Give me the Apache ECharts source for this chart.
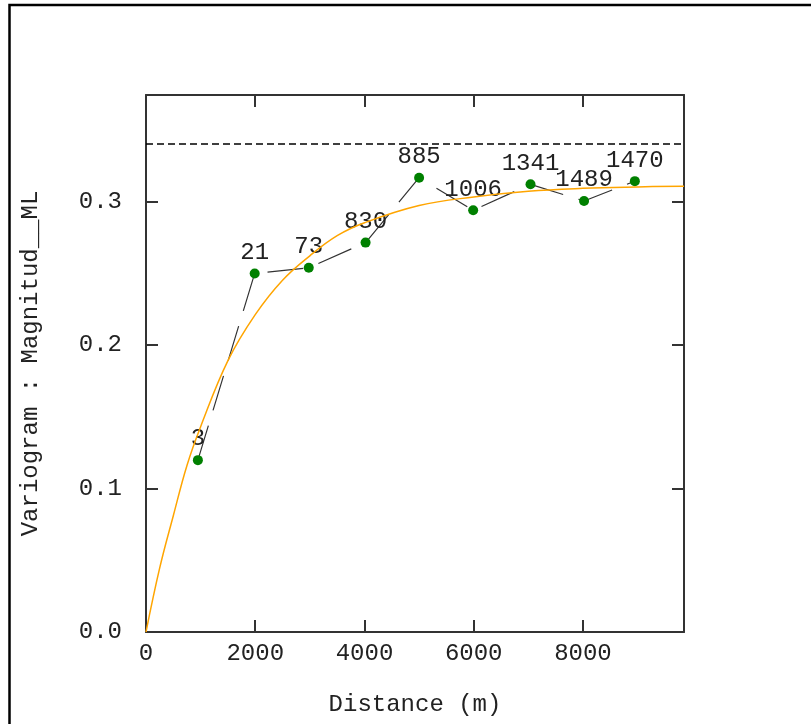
<!DOCTYPE html>
<html>
<head>
<meta charset="utf-8">
<script src="https://cdn.jsdelivr.net/npm/echarts@6/dist/echarts.min.js"></script>
<style>
  html, body { margin: 0; padding: 0; background: #fff; }
  #chart { width: 811px; height: 724px; }
</style>
</head>
<body>
<div id="chart"></div>
<script>
// Experimental variogram (lag distance, semivariance, number of pairs)
var lagDistance = [950, 1990, 2980, 4020, 5000, 5990, 7040, 8020, 8950];
var semivariance = [0.1197, 0.2497, 0.2537, 0.2712, 0.3164, 0.2937, 0.3118, 0.3002, 0.3140];
var pairCount = [3, 21, 73, 830, 885, 1006, 1341, 1489, 1470];

// Fitted model curve
var modelDistance = [0, 250, 500, 750, 1000, 1500, 2000, 2500, 3000, 3500, 4000, 5000, 6000, 7000, 8000, 9000, 9850];
var modelGamma = [0, 0.0445, 0.081, 0.116, 0.143, 0.189, 0.221, 0.245, 0.262, 0.276, 0.285, 0.297, 0.303, 0.307, 0.309, 0.310, 0.3105];

// Sill (sample variance) dashed line
var sillValue = 0.34;

// Axes
var xMin = 0, xMax = 9850, xInterval = 2000;
var yMin = 0, yMax = 0.374, yInterval = 0.1;
var xName = 'Distance (m)';
var yName = 'Variogram : Magnitud__ML';

var FONT = 'Liberation Mono';
var TXT = '#222';
var FS = 24;

var chart = echarts.init(document.getElementById('chart'), null, { renderer: 'canvas' });

function axisCommon(extra) {
  var base = {
    axisLine: { show: true, onZero: false, lineStyle: { color: '#333', width: 2 } },
    axisTick: { show: true, inside: true, length: 12, lineStyle: { color: '#333', width: 2 } },
    splitLine: { show: false }
  };
  for (var k in extra) base[k] = extra[k];
  return base;
}

var option = {
  animation: false,
  backgroundColor: '#fff',
  graphic: [{
    type: 'rect',
    shape: { x: 9.5, y: 5, width: 900, height: 900 },
    style: { fill: null, stroke: '#000', lineWidth: 2.5 },
    silent: true, z: -10
  }],
  grid: { left: 146, right: 127, top: 95, bottom: 92, containLabel: false },
  xAxis: [
    axisCommon({
      type: 'value', position: 'bottom', min: xMin, max: xMax, interval: xInterval,
      name: xName, nameLocation: 'middle', nameGap: 61,
      nameTextStyle: { fontFamily: FONT, fontSize: FS, color: TXT },
      axisLabel: {
        show: true, margin: 10, fontFamily: FONT, fontSize: FS, color: TXT,
        formatter: function (v) { return (v % xInterval === 0) ? String(v) : ''; }
      }
    }),
    axisCommon({
      type: 'value', position: 'top', min: xMin, max: xMax, interval: xInterval,
      axisLabel: { show: false }
    })
  ],
  yAxis: [
    axisCommon({
      type: 'value', position: 'left', min: yMin, max: yMax, interval: yInterval,
      name: yName, nameLocation: 'middle', nameGap: 103, nameRotate: 90,
      nameTextStyle: { fontFamily: FONT, fontSize: FS, color: TXT },
      axisLabel: {
        show: true, margin: 24, fontFamily: FONT, fontSize: FS, color: TXT,
        formatter: function (v) {
          var t = v / yInterval;
          return Math.abs(t - Math.round(t)) < 1e-6 ? v.toFixed(1) : '';
        }
      }
    }),
    axisCommon({
      type: 'value', position: 'right', min: yMin, max: yMax, interval: yInterval,
      axisLabel: { show: false }
    })
  ],
  series: [
    {
      name: 'experimental',
      type: 'line',
      xAxisIndex: 0, yAxisIndex: 0,
      z: 2,
      data: lagDistance.map(function (d, i) { return [d, semivariance[i]]; }),
      symbol: 'circle',
      symbolSize: 10,
      itemStyle: { color: '#008000' },
      lineStyle: { color: '#333', width: 1.2, type: [36, 16] },
      label: {
        show: true, position: 'top', distance: 4,
        fontFamily: FONT, fontSize: FS, color: TXT,
        formatter: function (p) { return String(pairCount[p.dataIndex]); }
      }
    },
    {
      name: 'model',
      type: 'line',
      xAxisIndex: 0, yAxisIndex: 0,
      z: 3,
      data: modelDistance.map(function (d, i) { return [d, modelGamma[i]]; }),
      smooth: 0.4,
      symbol: 'none',
      lineStyle: { color: '#FFA500', width: 1.5 },
      markLine: {
        silent: true,
        symbol: ['none', 'none'],
        label: { show: false },
        lineStyle: { color: '#000', width: 1.5, type: [7, 4] },
        data: [{ yAxis: sillValue }]
      }
    }
  ]
};

chart.setOption(option);
</script>
</body>
</html>
